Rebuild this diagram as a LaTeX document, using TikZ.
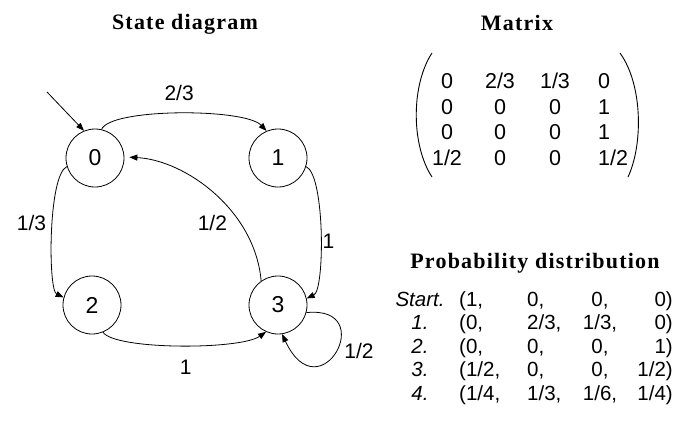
\documentclass[tikz,border=0pt]{standalone}
\usepackage{fontspec}
\setmainfont{Liberation Sans}
\newfontfamily\headfont[LetterSpace=5.5]{Liberation Serif}
\usetikzlibrary{arrows.meta}
\tikzset{
  state/.style={draw,circle,minimum size=58pt,inner sep=0pt,line width=0.8pt,font=\fontsize{23}{26}\selectfont},
  arr/.style={-{Triangle[length=8pt,width=6pt]},line width=0.8pt},
  lbl/.style={inner sep=1pt,font=\fontsize{21}{24}\selectfont},
  head/.style={anchor=base,font=\headfont\bfseries\fontsize{22}{25}\selectfont},
  entry/.style={inner sep=0pt,font=\fontsize{21.5}{24}\selectfont},
  prob/.style={inner sep=0pt,font=\fontsize{20.5}{23}\selectfont},
}
\newcommand\probrow[6]{%
  \node[prob,anchor=base] (p#1l) at (420,{306+23.5*#1}) {\itshape #2};
  \node[prob,anchor=base west] (p#1a) at (459,{306+23.5*#1}) {#3};
  \node[prob,anchor=base west] (p#1b) at (527,{306+23.5*#1}) {#4};
  \node[prob,anchor=base] (p#1c) at (600,{306+23.5*#1}) {#5};
  \node[prob,anchor=base east] (p#1d) at (673,{306+23.5*#1}) {#6};
}

\begin{document}
\begin{tikzpicture}[x=1pt,y=-1pt]
\useasboundingbox (0,0) rectangle (675,426);
% titles
\node[head] (tstate) at (185,29) {State diagram};
\node[head] (tmat) at (517,30) {Matrix};
\node[head] (tprob) at (535,268) {Probability distribution};
% states
\node[state] (s0) at (95,158) {0};
\node[state] (s1) at (278,158) {1};
\node[state] (s2) at (92,305) {2};
\node[state] (s3) at (278,305) {3};
\coordinate (init) at (47,92);
% transitions
\draw[arr] (init) -- (s0.112);
\draw[arr] (s0.77) .. controls (110,108) and (245,108) .. (s1.113)
  node[lbl,pos=.5,above=11pt] (l01) {2/3};
\draw[arr] (s0.197) .. controls (48,175) and (48,290) .. (s2.165)
  node[lbl,pos=.45,left=5pt] (l02) {1/3};
\draw[arr] (s1.-17) .. controls (325,175) and (325,290) .. (s3.13)
  node[lbl,pos=.55,right=1pt] (l13) {1};
\draw[arr] (s2.-68) .. controls (115,350) and (240,350) .. (s3.-114)
  node[lbl,pos=.53,below=13pt] (l23) {1};
\draw[arr,shorten >=5pt] (s3.125) .. controls (255,210) and (185,160) .. (s0.2)
  node[lbl,pos=.3,left=12pt] (l30) {1/2};
\draw[arr] (s3.-15) .. controls (380,305) and (320,415) .. (s3.-82)
  node[lbl,pos=.5,right=7pt] (l33) {1/2};
% matrix
\draw[line width=0.9pt] (432,53) .. controls (411,85) and (411,145) .. (432,177);
\draw[line width=0.9pt] (620,53) .. controls (643,85) and (643,145) .. (628,177);
\foreach \row [count=\i] in {{0,2/3,1/3,0},{0,0,0,1},{0,0,0,1},{1/2,0,0,1/2}} {
  \foreach \e [count=\j] in \row {
    \pgfmathsetmacro\mx{{447,500,555,598}[\j-1]}
    \ifnum\j=4 \def\anc{base west}\else\def\anc{base}\fi
    \node[entry,anchor=\anc] (m\i\j) at (\mx,{63.5+25.4*\i}) {\e};
  }
}
% distribution
\probrow{0}{Start.}{(1,}{0,}{0,}{0)}
\probrow{1}{1.}{(0,}{2/3,}{1/3,}{0)}
\probrow{2}{2.}{(0,}{0,}{0,}{1)}
\probrow{3}{3.}{(1/2,}{0,}{0,}{1/2)}
\probrow{4}{4.}{(1/4,}{1/3,}{1/6,}{1/4)}
\end{tikzpicture}
\end{document}
